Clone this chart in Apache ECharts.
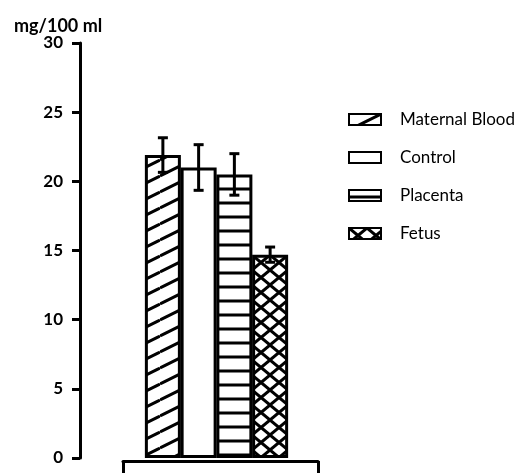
<!DOCTYPE html>
<html>
<head>
<meta charset="utf-8">
<script src="https://cdn.jsdelivr.net/npm/echarts@6/dist/echarts.min.js"></script>
<style>
html, body { margin: 0; padding: 0; background: #fff; }
#chart { width: 519px; height: 474px; }
</style>
</head>
<body>
<div id="chart"></div>
<script type="text/javascript">
// values
var categories = ['Maternal Blood', 'Control', 'Placenta', 'Fetus'];
var means = [21.9, 21.0, 20.5, 14.7];
var errors = [1.25, 1.65, 1.5, 0.55];
var yMin = 0, yMax = 30, yStep = 5;

// hatch fills
function makeTile(w, h, draw) {
	var c = document.createElement('canvas');
	c.width = w; c.height = h;
	var ctx = c.getContext('2d');
	ctx.fillStyle = '#fff';
	ctx.fillRect(0, 0, w, h);
	ctx.strokeStyle = '#000';
	ctx.fillStyle = '#000';
	draw(ctx, w, h);
	return { image: c, repeat: 'repeat' };
}
function line(ctx, x1, y1, x2, y2, lw) {
	ctx.lineWidth = lw;
	ctx.beginPath(); ctx.moveTo(x1, y1); ctx.lineTo(x2, y2); ctx.stroke();
}
var fills = [
	makeTile(32, 16, function (ctx, w, h) {
		for (var k = -1; k <= 1; k++) line(ctx, 0, h + k * h, w, k * h, 3);
	}),
	'#fff',
	makeTile(4, 14, function (ctx, w, h) {
		ctx.fillRect(0, 5.5, w, 3);
	}),
	makeTile(18, 15, function (ctx, w, h) {
		for (var dx = -w; dx <= w; dx += w) {
			line(ctx, dx, 0, dx + w, h, 3);
			line(ctx, dx, h, dx + w, 0, 3);
		}
	})
];

var series = [];
categories.forEach(function (name, i) {
	var d = categories.map(function (c, j) { return j === i ? means[i] : '-'; });
	series.push({
		name: name,
		type: 'bar',
		data: d,
		barWidth: 36,
		barGap: '-100%',
		itemStyle: { color: fills[i], borderColor: '#000', borderWidth: 3 },
		emphasis: { disabled: true }
	});
});
series.push({
	type: 'custom',
	data: categories.map(function (c, i) { return [i, means[i] - errors[i], means[i] + errors[i]]; }),
	encode: { x: 0, y: [1, 2] },
	z: 5,
	renderItem: function (params, api) {
		var i = api.value(0);
		var lo = api.coord([i, api.value(1)]);
		var hi = api.coord([i, api.value(2)]);
		var st = { stroke: '#000', lineWidth: 3 };
		return {
			type: 'group',
			children: [
				{ type: 'line', shape: { x1: hi[0], y1: hi[1], x2: lo[0], y2: lo[1] }, style: st },
				{ type: 'line', shape: { x1: hi[0] - 5, y1: hi[1], x2: hi[0] + 5, y2: hi[1] }, style: st },
				{ type: 'line', shape: { x1: lo[0] - 5, y1: lo[1], x2: lo[0] + 5, y2: lo[1] }, style: st }
			]
		};
	}
});

var chart = echarts.init(document.getElementById('chart'));
chart.setOption({
	backgroundColor: '#fff',
	animation: false,
	title: {
		text: 'mg/100 ml', left: 9, top: 12,
		textStyle: { fontFamily: 'Lato', fontSize: 18, fontWeight: 'bold', color: '#000' }
	},
	legend: {
		data: categories,
		icon: 'rect',
		orient: 'vertical',
		left: 343, top: 106,
		itemWidth: 32, itemHeight: 11,
		itemGap: 21,
		selectedMode: false,
		textStyle: { fontFamily: 'Lato', fontSize: 17, color: '#000', padding: [0, 0, 0, 14] }
	},
	grid: [
		{ left: 145, width: 143, top: 43, bottom: 16 },
		{ left: 123, width: 195, top: 460, height: 1 }
	],
	xAxis: [
		{ type: 'category', data: categories, gridIndex: 0, show: false },
		{
			type: 'value', gridIndex: 1, min: 0, max: 1, interval: 1,
			splitLine: { show: false },
			axisLine: { show: true, lineStyle: { color: '#000', width: 3 } },
			axisTick: { show: true, length: 12, lineStyle: { color: '#000', width: 3 } },
			axisLabel: { show: false }
		}
	],
	yAxis: [
		{
			type: 'value', gridIndex: 0, min: yMin, max: yMax, interval: yStep,
			offset: 65,
			splitLine: { show: false },
			axisLine: { show: true, lineStyle: { color: '#000', width: 3 } },
			axisTick: { show: true, length: 8, lineStyle: { color: '#000', width: 3 } },
			axisLabel: { margin: 17, fontFamily: 'Lato', fontSize: 17, fontWeight: 'bold', color: '#000' }
		},
		{ type: 'value', gridIndex: 1, show: false }
	],
	series: series
});
</script>
</body>
</html>
